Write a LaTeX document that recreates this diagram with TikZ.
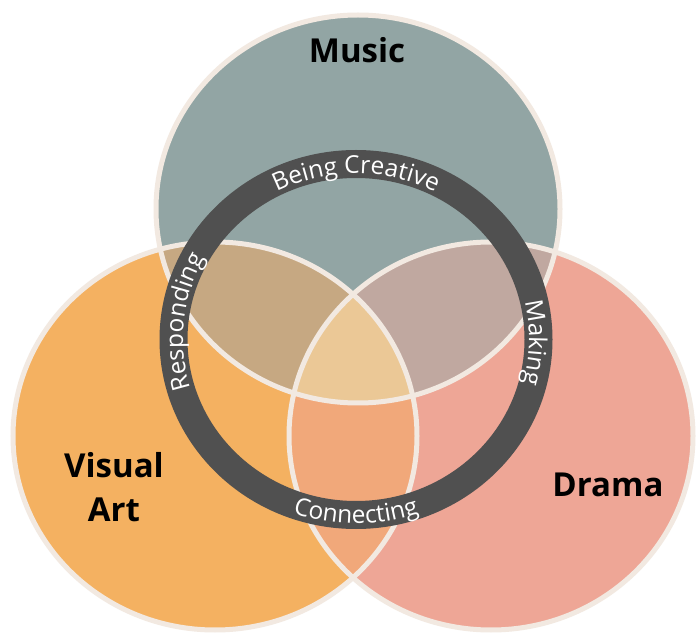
\documentclass[tikz,border=0pt]{standalone}
\usepackage{fontspec}
\setmainfont{Open Sans}
\usetikzlibrary{decorations.text}
\definecolor{musicC}{HTML}{92A5A4}
\definecolor{visualC}{HTML}{F4B161}
\definecolor{dramaC}{HTML}{EEA696}
\definecolor{mvC}{HTML}{C6A882}
\definecolor{mdC}{HTML}{C0A8A0}
\definecolor{vdC}{HTML}{F1A87A}
\definecolor{allC}{HTML}{EBC896}
\definecolor{ringC}{HTML}{505050}
\definecolor{edgeC}{HTML}{F2E9E1}
\newcommand{\ringtxt}{\fontsize{24.5}{24.5}\selectfont}
\tikzset{
  setedge/.style={draw=edgeC, line width=5pt},
  setlabel/.style={font=\fontsize{33}{44}\selectfont\bfseries, text=black, inner sep=0pt},
  ringtext/.style={decorate, decoration={text along path, text align=center, text color=white, text={|\ringtxt|#1}}}
}
\begin{document}
\begin{tikzpicture}[x=1pt,y=1pt]
\useasboundingbox (0,0) rectangle (696,635);
\fill[white] (0,0) rectangle (696,635);
\coordinate (cm) at (358,426);
\coordinate (cv) at (215,199);
\coordinate (cd) at (491,199);
\coordinate (rc) at (356,295.5);
\def\circM{(cm) ellipse [x radius=202, y radius=194]}
\def\circV{(cv) ellipse [x radius=202, y radius=194]}
\def\circD{(cd) ellipse [x radius=202, y radius=194]}
% fills
\fill[musicC] \circM;
\fill[visualC] \circV;
\fill[dramaC] \circD;
\begin{scope}\clip \circM; \fill[mvC] \circV; \end{scope}
\begin{scope}\clip \circM; \fill[mdC] \circD; \end{scope}
\begin{scope}\clip \circV; \fill[vdC] \circD; \end{scope}
\begin{scope}\clip \circM; \clip \circV; \fill[allC] \circD; \end{scope}
% outlines
\draw[setedge] \circM;
\draw[setedge] \circV;
\draw[setedge] \circD;
% ring
\draw[ringC, line width=28pt] (rc) ellipse [x radius=182.5, y radius=175.5];
\path[ringtext={Being Creative}] ([shift={(170:173 and 166)}]rc) arc[start angle=170, end angle=10, x radius=173, y radius=166];
\path[ringtext={Responding}] ([shift={(254:173 and 166)}]rc) arc[start angle=254, end angle=94, x radius=173, y radius=166];
\path[ringtext={Making}] ([shift={(79:173 and 166)}]rc) arc[start angle=79, end angle=-81, x radius=173, y radius=166];
\path[ringtext={Connecting}] ([shift={(190:191.5 and 184)}]rc) arc[start angle=190, end angle=350, x radius=191.5, y radius=184];
% labels
\node[setlabel] (music) at (357,585) {Music};
\node[setlabel, align=center] (visual) at (114,148) {Visual\\Art};
\node[setlabel] (drama) at (608,150) {Drama};
\end{tikzpicture}
\end{document}
